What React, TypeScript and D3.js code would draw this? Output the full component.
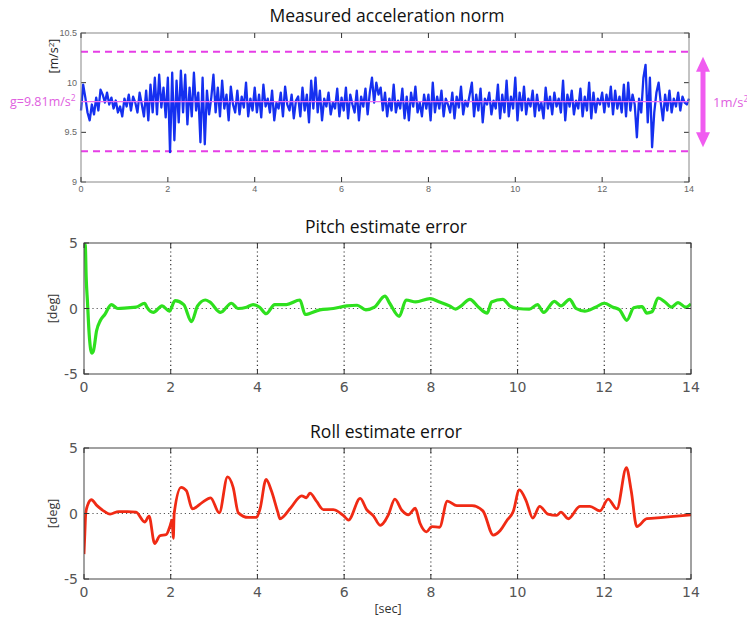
import React from "react";
import * as d3 from "d3";

// measured acceleration norm, sampled every 0.05 s (one row = 1 s)
const accelRows = [
  [9.72, 9.98, 9.85, 9.70, 9.62, 9.78, 9.68, 9.85, 9.72, 9.93, 9.88, 9.80, 9.90, 9.78, 9.85, 9.74, 9.82, 9.70, 9.76, 9.66],
  [9.84, 9.76, 9.88, 9.72, 9.86, 9.80, 9.70, 9.90, 9.78, 9.66, 9.92, 9.62, 9.98, 9.70, 10.05, 9.68, 10.08, 9.75, 9.95, 9.65],
  [10.05, 9.30, 10.10, 9.42, 10.02, 9.60, 10.12, 9.70, 10.08, 9.58, 9.95, 9.66, 10.10, 9.72, 9.90, 9.40, 10.05, 9.38, 9.92, 9.68],
  [9.85, 10.08, 9.70, 9.95, 9.66, 10.02, 9.74, 9.88, 9.62, 9.96, 9.78, 9.70, 9.92, 9.68, 9.86, 9.75, 10.00, 9.66, 9.84, 9.72],
  [9.95, 9.70, 9.88, 9.65, 9.98, 9.76, 9.84, 9.70, 9.92, 9.62, 9.80, 9.74, 9.90, 9.66, 9.96, 9.78, 9.72, 9.88, 9.64, 9.82],
  [9.86, 9.66, 9.95, 9.72, 9.88, 9.60, 10.02, 9.74, 10.05, 9.70, 9.92, 9.62, 9.84, 9.76, 9.90, 9.68, 9.80, 9.74, 9.94, 9.66],
  [9.85, 9.72, 9.95, 9.64, 9.88, 9.78, 9.70, 9.92, 9.62, 9.86, 9.76, 9.94, 9.68, 9.90, 10.05, 9.80, 10.00, 9.88, 9.95, 9.72],
  [9.90, 9.66, 9.84, 9.72, 9.98, 9.70, 9.82, 9.74, 9.94, 9.64, 9.86, 9.62, 9.90, 9.76, 9.96, 9.70, 9.80, 9.66, 9.88, 9.74],
  [9.88, 9.62, 10.00, 9.70, 9.86, 9.74, 9.92, 9.66, 9.84, 9.78, 9.70, 9.90, 9.64, 9.86, 9.75, 9.96, 9.68, 9.82, 9.76, 9.88],
  [10.00, 9.66, 9.88, 9.72, 9.94, 9.60, 9.84, 9.78, 9.90, 9.68, 9.82, 9.74, 9.98, 9.64, 9.88, 9.70, 10.02, 9.66, 9.86, 9.74],
  [10.05, 9.62, 9.90, 9.72, 9.96, 9.68, 9.84, 9.76, 9.92, 9.66, 9.88, 9.72, 9.80, 9.64, 9.95, 9.74, 9.86, 9.68, 9.90, 9.76],
  [9.84, 9.70, 10.02, 9.62, 9.88, 9.76, 9.92, 9.68, 9.82, 9.74, 9.94, 9.66, 9.86, 9.72, 10.00, 9.64, 9.90, 9.70, 9.84, 9.78],
  [9.90, 9.70, 9.88, 9.76, 9.96, 9.68, 9.92, 9.74, 9.86, 9.70, 9.98, 9.66, 10.00, 9.72, 9.88, 9.78, 9.45, 9.84, 9.70, 10.05],
  [10.18, 9.60, 10.05, 9.35, 9.70, 9.90, 10.00, 9.80, 9.62, 9.88, 9.72, 9.92, 9.70, 9.84, 9.76, 9.90, 9.72, 9.86, 9.80, 9.78],
  [9.84],
];
const accelValues = accelRows.flat();
const accelTimes = accelValues.map((_, i) => i * 0.05);

const gravity = 9.81;
const accelBounds = [10.31, 9.31];

const pitchTimes = [0, 0.03, 0.05, 0.08, 0.12, 0.18, 0.22, 0.29, 0.38, 0.48, 0.63, 0.78, 1.0, 1.2, 1.4, 1.45, 1.6, 1.8, 1.97, 2.1, 2.3, 2.48, 2.62, 2.8, 2.9, 3.15, 3.4, 3.55, 3.75, 3.9, 4.05, 4.2, 4.4, 4.67, 4.98, 5.1, 5.44, 5.75, 6.06, 6.3, 6.5, 6.7, 6.94, 7.05, 7.27, 7.43, 7.65, 7.98, 8.2, 8.43, 8.57, 8.7, 8.9, 9.1, 9.3, 9.4, 9.66, 9.82, 10.0, 10.27, 10.46, 10.6, 10.85, 11.0, 11.2, 11.35, 11.55, 11.8, 12.0, 12.2, 12.35, 12.52, 12.68, 12.87, 12.98, 13.1, 13.24, 13.4, 13.55, 13.7, 13.88, 14];
const pitchValues = [5, 4.8, 2.4, 0.5, -2, -3.4, -3.2, -1.7, -0.9, -0.46, 0.3, 0, 0.05, 0.1, 0.4, 0.1, -0.3, 0.2, -0.2, 0.6, 0.3, -1.0, 0.2, 0.65, 0.5, -0.3, 0.4, 0, 0.1, 0.3, 0.1, -0.4, 0.3, 0.3, 0.65, -0.45, -0.1, 0, 0.2, 0.25, -0.1, 0.1, 0.95, 0.4, -0.6, 0.65, 0.5, 0.75, 0.5, 0.2, -0.05, 0.2, 0.7, 0.1, -0.35, 0.5, 0.7, 0.2, 0, -0.05, 0.3, -0.3, 0.55, 0.2, 0.7, 0, -0.2, 0.1, 0.4, 0.1, -0.1, -0.9, 0.05, 0.15, -0.35, -0.25, 0.8, 0.5, 0.1, 0.45, 0.1, 0.35];

const rollTimes = [0, 0.02, 0.04, 0.08, 0.17, 0.3, 0.45, 0.6, 0.8, 1.0, 1.2, 1.4, 1.5, 1.63, 1.75, 1.9, 1.98, 2.03, 2.06, 2.08, 2.24, 2.36, 2.5, 2.73, 2.92, 3.12, 3.31, 3.44, 3.56, 3.79, 3.98, 4.06, 4.2, 4.32, 4.47, 4.52, 4.76, 5.02, 5.13, 5.21, 5.37, 5.52, 5.75, 5.98, 6.1, 6.37, 6.52, 6.68, 6.83, 7.02, 7.17, 7.33, 7.48, 7.64, 7.75, 7.9, 8.02, 8.2, 8.38, 8.6, 8.95, 9.2, 9.44, 9.6, 9.75, 9.9, 10.04, 10.2, 10.35, 10.51, 10.7, 10.9, 11.0, 11.17, 11.44, 11.67, 11.9, 12.09, 12.29, 12.51, 12.62, 12.75, 12.98, 13.36, 13.67, 14];
const rollValues = [-3.1, -1.5, 0, 0.6, 1.05, 0.6, 0.2, -0.05, 0.15, 0.15, 0.1, -0.65, -0.2, -2.3, -1.7, -1.6, -1.0, -0.5, -1.9, 0, 2.0, 1.75, 0.35, 0.85, 1.2, 0.05, 2.8, 2.0, 0.05, -0.3, -0.3, 0.35, 2.6, 1.75, 0.1, -0.4, 0.4, 1.35, 1.2, 1.55, 0.9, 0.3, 0.3, -0.15, -0.5, 1.15, 0.3, -0.2, -0.9, -0.1, 1.1, 0.25, -0.1, 0.4, -0.75, -1.4, -1.0, -1.05, 0.95, 0.6, 0.6, 0.2, -1.65, -1.3, -0.55, 0.15, 1.8, 0.95, -0.35, 0.55, -0.05, -0.15, 0.1, -0.4, 0.55, 0.55, 0.2, 1.1, 0.35, 3.5, 1.75, -1.0, -0.4, -0.3, -0.2, -0.1];

const xTicks = [0, 2, 4, 6, 8, 10, 12, 14];
const accelYTicks = [9, 9.5, 10, 10.5];
const accelYLabels = ["9", "9.5", "10", "10.5"];
const degYTicks = [-5, 0, 5];
const degYLabels = ["-5", "0", "5"];

const MAGENTA = "#e63ee6";
const TITLE_FONT = "'Open Sans', sans-serif";
const TICK_FONT = "'DejaVu Sans', sans-serif";

function Frame({ x, y, tickColor, stroke }) {
  const [x0, x1] = x.range();
  const [y0, y1] = y.range();
  const L = 5;
  return (
    <g stroke={stroke} fill="none">
      <rect x={x0} y={y1} width={x1 - x0} height={y0 - y1} strokeWidth={1} />
      {xTicks.map((t) => (
        <g key={"x" + t} stroke={tickColor}>
          <line x1={x(t)} x2={x(t)} y1={y0} y2={y0 - L} />
          <line x1={x(t)} x2={x(t)} y1={y1} y2={y1 + L} />
        </g>
      ))}
    </g>
  );
}

function AccelPanel() {
  const x = d3.scaleLinear().domain([0, 14]).range([81, 689]);
  const y = d3.scaleLinear().domain([9, 10.5]).range([182, 33]);
  const line = d3
    .line<number>()
    .x((_, i) => x(accelTimes[i]))
    .y((d) => y(d));
  const arrowTop = y(10.26);
  const arrowBot = y(9.35);
  const ax = 703;
  return (
    <g>
      <text x={387} y={22} textAnchor="middle" fontFamily={TITLE_FONT} fontSize={17.5} fill="#111">
        Measured acceleration norm
      </text>
      <rect x={81} y={33} width={608} height={149} fill="#fff" />
      {accelYTicks.map((t, i) => (
        <g key={t}>
          <line x1={81} x2={86} y1={y(t)} y2={y(t)} stroke="#333" />
          <line x1={689} x2={684} y1={y(t)} y2={y(t)} stroke="#333" />
          <text x={77} y={y(t) + 3} textAnchor="end" fontFamily="'Liberation Sans', sans-serif" fontSize={9} fill="#666">
            {accelYLabels[i]}
          </text>
        </g>
      ))}
      {xTicks.map((t) => (
        <text key={t} x={x(t)} y={192} textAnchor="middle" fontFamily="'Liberation Sans', sans-serif" fontSize={9} fill="#666">
          {t}
        </text>
      ))}
      {accelBounds.map((b) => (
        <line key={b} x1={81} x2={689} y1={y(b)} y2={y(b)} stroke={MAGENTA} strokeWidth={2} strokeDasharray="7,5" />
      ))}
      <path d={line(accelValues) || ""} fill="none" stroke="#1530f0" strokeWidth={2.3} strokeLinejoin="round" />
      <line x1={81} x2={689} y1={y(gravity)} y2={y(gravity)} stroke="#f070f0" strokeWidth={1.2} />
      <Frame x={x} y={y} tickColor="#333" stroke="#888" />
      <text x={10} y={y(gravity) + 4} fontFamily={TITLE_FONT} fontSize={12.5} fill="#e060e0">
        g=9.81m/s<tspan dy={-5} fontSize={8.5}>2</tspan>
      </text>
      <text transform={`translate(58,56) rotate(-90)`} textAnchor="middle" fontFamily={TITLE_FONT} fontSize={12.5} fill="#222">
        [m/s<tspan dy={-4} fontSize={8}>2</tspan><tspan dy={4}>]</tspan>
      </text>
      <g fill="#f05cf0">
        <rect x={ax - 2.5} y={arrowTop + 12} width={5} height={arrowBot - arrowTop - 24} />
        <polygon points={`${ax},${arrowTop} ${ax - 7},${arrowTop + 15} ${ax + 7},${arrowTop + 15}`} />
        <polygon points={`${ax},${arrowBot} ${ax - 7},${arrowBot - 15} ${ax + 7},${arrowBot - 15}`} />
      </g>
      <text x={713} y={y(gravity) + 5} fontFamily={TITLE_FONT} fontSize={13} fill="#e060e0">
        1m/s<tspan dy={-5} fontSize={8.5}>2</tspan>
      </text>
    </g>
  );
}

function DegPanel({ title, top, times, values, color, lineWidth, xLabel }) {
  const x = d3.scaleLinear().domain([0, 14]).range([84, 691]);
  const y = d3.scaleLinear().domain([-5, 5]).range([top + 131, top]);
  const line = d3
    .line<number>()
    .x((_, i) => x(times[i]))
    .y((d) => y(d))
    .curve(d3.curveMonotoneX);
  return (
    <g>
      <text x={386} y={top - 10} textAnchor="middle" fontFamily={TITLE_FONT} fontSize={17.5} fill="#111">
        {title}
      </text>
      <defs>
        <clipPath id={"clip" + top}>
          <rect x={84} y={top} width={607} height={131} />
        </clipPath>
      </defs>
      {xTicks.slice(1, -1).map((t) => (
        <line key={t} x1={x(t)} x2={x(t)} y1={top} y2={top + 131} stroke="#333" strokeWidth={1.2} strokeDasharray="1.2,3" />
      ))}
      <line x1={84} x2={691} y1={y(0)} y2={y(0)} stroke="#555" strokeWidth={1.2} strokeDasharray="1.2,3" />
      <path
        d={line(values) || ""}
        fill="none"
        stroke={color}
        strokeWidth={lineWidth}
        strokeLinejoin="round"
        clipPath={`url(#clip${top})`}
      />
      <Frame x={x} y={y} tickColor="#333" stroke="#444" />
      {degYTicks.map((t, i) => (
        <g key={t}>
          <line x1={84} x2={89} y1={y(t)} y2={y(t)} stroke="#333" />
          <line x1={691} x2={686} y1={y(t)} y2={y(t)} stroke="#333" />
          <text x={78} y={y(t) + 5} textAnchor="end" fontFamily={TICK_FONT} fontSize={14} fill="#555">
            {degYLabels[i]}
          </text>
        </g>
      ))}
      {xTicks.map((t) => (
        <text key={t} x={x(t)} y={top + 149} textAnchor="middle" fontFamily={TICK_FONT} fontSize={14} fill="#555">
          {t}
        </text>
      ))}
      <text transform={`translate(57,${y(0)}) rotate(-90)`} textAnchor="middle" fontFamily={TITLE_FONT} fontSize={12.5} fill="#333">
        [deg]
      </text>
      {xLabel && (
        <text x={388} y={top + 165} textAnchor="middle" fontFamily={TITLE_FONT} fontSize={12.5} fill="#333">
          {xLabel}
        </text>
      )}
    </g>
  );
}

export default function App() {
  return (
    <svg width={747} height={619} style={{ position: "absolute", left: 0, top: 0, background: "#fff" }}>
      <rect width={747} height={619} fill="#fff" />
      <AccelPanel />
      <DegPanel title="Pitch estimate error" top={243} times={pitchTimes} values={pitchValues} color="#2ee01e" lineWidth={3.2} />
      <DegPanel title="Roll estimate error" top={448} times={rollTimes} values={rollValues} color="#f02a14" lineWidth={2.8} xLabel="[sec]" />
    </svg>
  );
}
